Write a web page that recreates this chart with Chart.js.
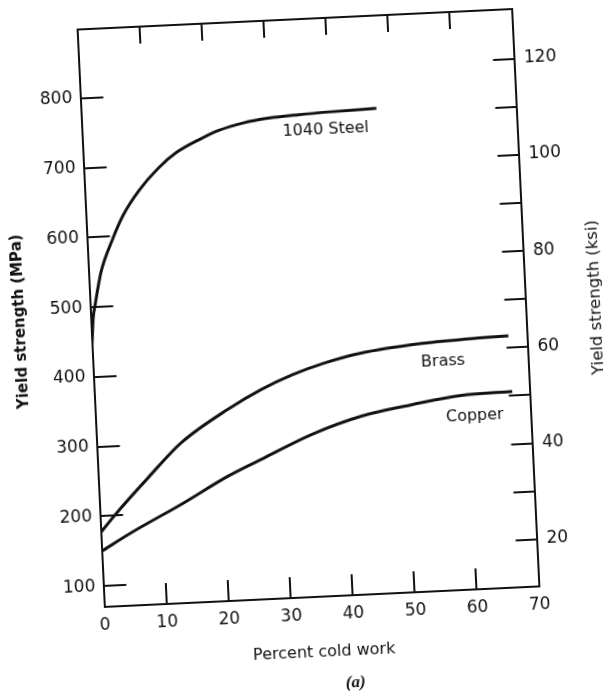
<!DOCTYPE html>
<html>
<head>
<meta charset="utf-8">
<script src="https://cdn.jsdelivr.net/npm/chart.js@4.4.1/dist/chart.umd.min.js"></script>
<style>
  html, body { margin: 0; padding: 0; background: #fff; overflow: hidden; }
  #wrap { width: 603px; height: 699px; }
  /* the scan is tilted a little, so is the canvas */
  canvas { transform: rotate(-2.7deg); transform-origin: 308px 308px; }
</style>
</head>
<body>
<div id="wrap"><canvas id="chart" width="603" height="699"></canvas></div>
<script>
// percent cold work -> yield strength (MPa)
const steelX  = [0, 0.4, 0.8, 2, 4.1, 6, 8.8, 12, 15, 19, 22, 26, 30, 35, 40, 47.5];
const steelY  = [445, 485, 503, 550, 596, 630, 665, 695, 716, 734, 745, 754, 759, 762, 764, 766];
const brassX  = [0, 2.4, 8, 13.6, 21.4, 26.9, 32, 37, 43, 53, 62, 67];
const brassY  = [177, 201, 252, 300, 345, 371, 390, 404, 416, 426, 430, 431];
const copperX = [0, 5, 13.2, 20.9, 26.4, 34.6, 42.8, 51, 59.1, 67.2];
const copperY = [150, 175, 212, 249, 271, 303, 326, 339, 349, 351];

// axes
const xTicks    = [0, 10, 20, 30, 40, 50, 60, 70];
const xTopTicks = [10, 20, 30, 40, 50, 60];
const mpaTicks  = [100, 200, 300, 400, 500, 600, 700, 800];
const ksiTicks  = [20, 30, 40, 50, 60, 70, 80, 90, 100, 110, 120];
const ksiLabels = [20, 40, 60, 80, 100, 120];
const mpaMin = 70, mpaMax = 899;
const MPA_PER_KSI = 6.895;

const ink = '#111';
const tickFont = { family: 'DejaVu Sans', size: 17 };

function pts(xs, ys) { return xs.map((x, i) => ({ x: x, y: ys[i] })); }
function setTicks(list) { return s => { s.ticks = list.map(v => ({ value: v })); }; }
// fixed box sizes so the plot frame lands where the scan has it
function fixSize(prop, size) {
    return s => {
        s[prop] = size;
        s.paddingTop = s.paddingBottom = s.paddingLeft = s.paddingRight = 0;
    };
}

// text on the figure (curve names sit at data coords)
const curveLabels = [
    { text: '1040 Steel', x: 39.2, y: 738 },
    { text: 'Brass', x: 56.3, y: 399 },
    { text: 'Copper', x: 61, y: 318 }
];

const figureText = {
    id: 'figureText',
    afterDraw(chart) {
        const { ctx, chartArea: a, scales } = chart;
        const midX = (a.left + a.right) / 2;
        const midY = (a.top + a.bottom) / 2;
        ctx.save();
        ctx.fillStyle = ink;
        ctx.textAlign = 'center';
        ctx.textBaseline = 'middle';

        ctx.font = '16px "DejaVu Sans"';
        curveLabels.forEach(l => {
            ctx.fillText(l.text, scales.x.getPixelForValue(l.x), scales.y.getPixelForValue(l.y));
        });

        ctx.fillText('Percent cold work', midX, a.bottom + 56);

        ctx.font = 'italic bold 17px "Liberation Serif"';
        ctx.fillText('(a)', midX + 30, a.bottom + 88);

        ctx.save();
        ctx.translate(a.left - 70, midY);
        ctx.rotate(-Math.PI / 2);
        ctx.font = 'bold 15px "DejaVu Sans"';
        ctx.fillText('Yield strength (MPa)', 0, 0);
        ctx.restore();

        ctx.save();
        ctx.translate(a.right + 70, midY + 3);
        ctx.rotate(-Math.PI / 2);
        ctx.font = '16.5px "DejaVu Sans"';
        ctx.fillText('Yield strength (ksi)', 0, 0);
        ctx.restore();

        ctx.restore();
    }
};

const gridOpts = (len) => ({
    drawOnChartArea: false,
    drawTicks: true,
    tickLength: -len,   // negative = ticks point into the plot
    tickWidth: 2,
    lineWidth: 2,
    tickColor: ink,
    color: ink
});
const borderOpts = { display: true, color: ink, width: 2 };

const line = (data) => ({
    data: data,
    borderColor: ink,
    borderWidth: 3,
    pointRadius: 0,
    fill: false,
    cubicInterpolationMode: 'monotone'
});

new Chart(document.getElementById('chart'), {
    type: 'line',
    data: {
        datasets: [
            line(pts(steelX, steelY)),
            line(pts(brassX, brassY)),
            line(pts(copperX, copperY))
        ]
    },
    options: {
        responsive: false,
        animation: false,
        layout: { padding: 0 },
        plugins: { legend: { display: false }, tooltip: { enabled: false } },
        scales: {
            x: {
                type: 'linear', position: 'bottom', min: 0, max: 70,
                afterBuildTicks: setTicks(xTicks),
                afterFit: fixSize('height', 102),
                grid: gridOpts(21),
                border: borderOpts,
                ticks: { padding: 29, color: ink, font: tickFont, maxRotation: 0, autoSkip: false }
            },
            x2: {
                type: 'linear', position: 'top', min: 0, max: 70,
                afterBuildTicks: setTicks(xTopTicks),
                afterFit: fixSize('height', 19),
                grid: gridOpts(17),
                border: borderOpts,
                ticks: { display: false }
            },
            y: {
                type: 'linear', position: 'left', min: mpaMin, max: mpaMax,
                afterBuildTicks: setTicks(mpaTicks),
                afterFit: fixSize('width', 90.5),
                grid: gridOpts(23),
                border: borderOpts,
                ticks: { padding: 31, color: ink, font: tickFont, autoSkip: false }
            },
            y2: {
                type: 'linear', position: 'right',
                min: mpaMin / MPA_PER_KSI, max: mpaMax / MPA_PER_KSI,
                afterBuildTicks: setTicks(ksiTicks),
                afterFit: fixSize('width', 77.5),
                grid: gridOpts(21),
                border: borderOpts,
                ticks: {
                    padding: 31, color: ink, font: tickFont, autoSkip: false,
                    callback: v => ksiLabels.includes(v) ? String(v) : ''
                }
            }
        }
    },
    plugins: [figureText]
});
</script>
</body>
</html>
